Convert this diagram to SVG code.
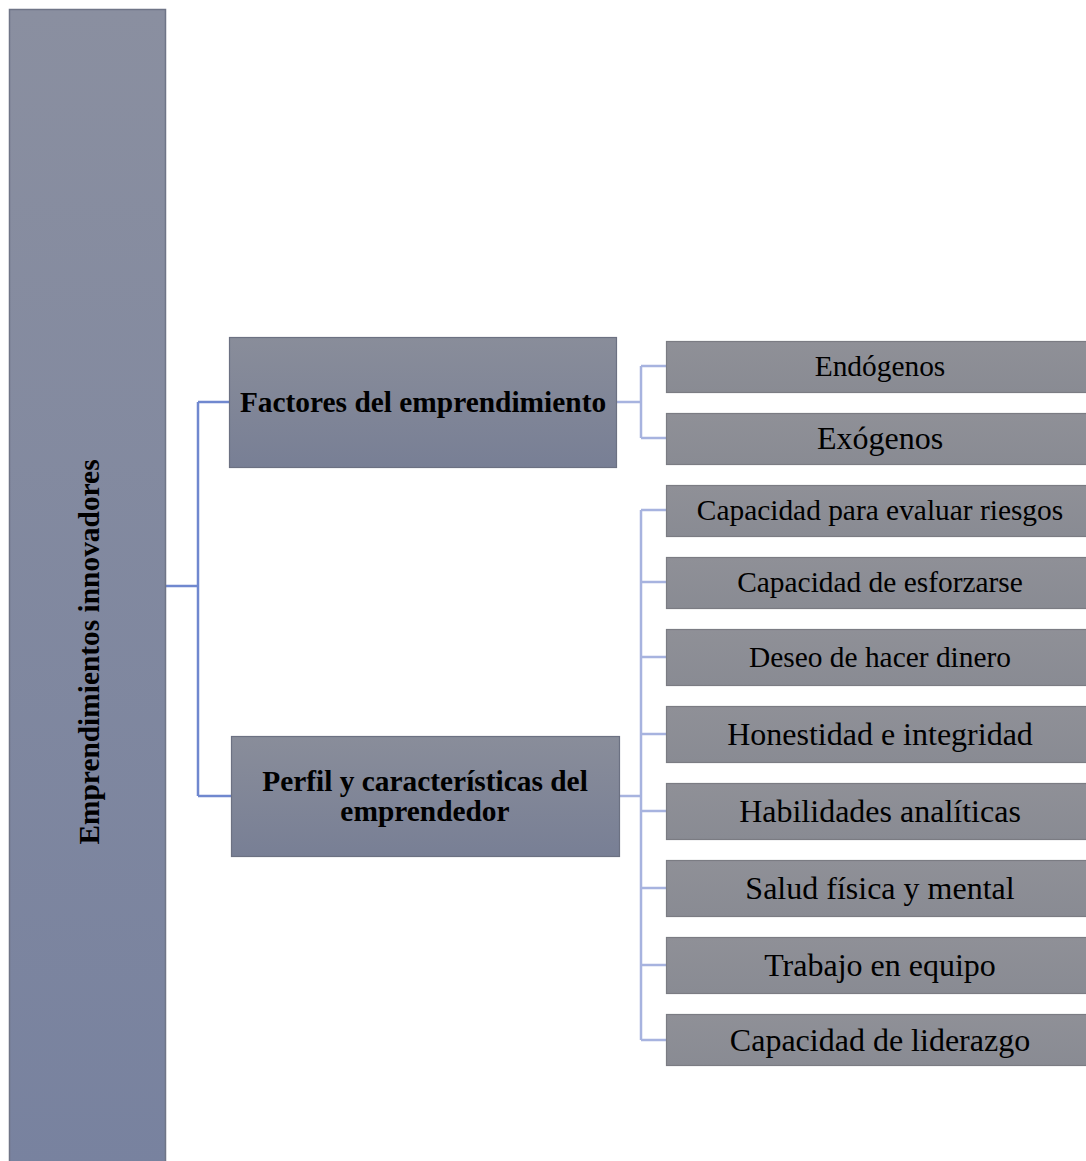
<svg xmlns="http://www.w3.org/2000/svg" width="1086" height="1161" viewBox="0 0 1086 1161">
<defs>
<linearGradient id="gRoot" x1="0" y1="0" x2="0" y2="1"><stop offset="0" stop-color="#8a8fa0"/><stop offset="1" stop-color="#78829f"/></linearGradient>
<linearGradient id="gMid" x1="0" y1="0" x2="0" y2="1"><stop offset="0" stop-color="#898d9a"/><stop offset="1" stop-color="#787f95"/></linearGradient>
<linearGradient id="gLeaf" x1="0" y1="0" x2="0" y2="1"><stop offset="0" stop-color="#8f9097"/><stop offset="1" stop-color="#898b93"/></linearGradient>
</defs>
<style>
.root{fill:url(#gRoot);stroke:#6f7587;stroke-width:1.5}
.mid{fill:url(#gMid);stroke:#6c7182;stroke-width:1.2}
.leaf{fill:url(#gLeaf);stroke:#7b7c83;stroke-width:1.2}
.b{font-family:"Liberation Serif","Times New Roman",serif;font-weight:bold;font-size:29.4px;fill:#000;text-anchor:middle}
.t{font-family:"Liberation Serif","Times New Roman",serif;font-size:29.4px;fill:#000;text-anchor:middle}
.l{font-size:32px}
.c1{fill:none;stroke:#7088cf;stroke-width:2.5}
.c2{fill:none;stroke:#a7b3df;stroke-width:2.5}
</style>
<rect width="1086" height="1161" fill="#fff"/>
<g id="connectors">
<path class="c1" d="M165 586 H198 M198 402 V796 M198 402 H230 M198 796 H232"/>
<path class="c2" d="M616 402 H641 M641 366 V438 M641 366 H667 M641 438 H667"/>
<path class="c2" d="M619 796 H641 M641 510 V1040 M641 510 H667 M641 582 H667 M641 657 H667 M641 734 H667 M641 811 H667 M641 888 H667 M641 965 H667 M641 1040 H667"/>
</g>
<g id="root">
<rect class="root" x="9.5" y="9.5" width="156" height="1160"/>
<text class="b" transform="translate(99 652) rotate(-90)" x="0" y="0">Emprendimientos innovadores</text>
</g>
<g id="factores">
<rect class="mid" x="229.5" y="337.5" width="387" height="130"/>
<text class="b" x="423" y="412">Factores del emprendimiento</text>
</g>
<g id="perfil">
<rect class="mid" x="231.5" y="736.5" width="388" height="120"/>
<text class="b" x="425" y="791">Perfil y características del</text>
<text class="b" x="425" y="821">emprendedor</text>
</g>
<g id="endogenos"><rect class="leaf" x="666.5" y="341.5" width="430" height="51"/><text class="t" x="880" y="376">Endógenos</text></g>
<g id="exogenos"><rect class="leaf" x="666.5" y="413.5" width="430" height="51"/><text class="t l" x="880" y="449">Exógenos</text></g>
<g id="riesgos"><rect class="leaf" x="666.5" y="485.5" width="430" height="51"/><text class="t" x="880" y="520">Capacidad para evaluar riesgos</text></g>
<g id="esforzarse"><rect class="leaf" x="666.5" y="557.5" width="430" height="51"/><text class="t" x="880" y="592">Capacidad de esforzarse</text></g>
<g id="dinero"><rect class="leaf" x="666.5" y="629.5" width="430" height="56"/><text class="t" x="880" y="667">Deseo de hacer dinero</text></g>
<g id="honestidad"><rect class="leaf" x="666.5" y="706.5" width="430" height="56"/><text class="t l" x="880" y="745">Honestidad e integridad</text></g>
<g id="habilidades"><rect class="leaf" x="666.5" y="783.5" width="430" height="56"/><text class="t l" x="880" y="822">Habilidades analíticas</text></g>
<g id="salud"><rect class="leaf" x="666.5" y="860.5" width="430" height="56"/><text class="t l" x="880" y="899">Salud física y mental</text></g>
<g id="trabajo"><rect class="leaf" x="666.5" y="937.5" width="430" height="56"/><text class="t l" x="880" y="976">Trabajo en equipo</text></g>
<g id="liderazgo"><rect class="leaf" x="666.5" y="1014.5" width="430" height="51"/><text class="t l" x="880" y="1051">Capacidad de liderazgo</text></g>
</svg>
